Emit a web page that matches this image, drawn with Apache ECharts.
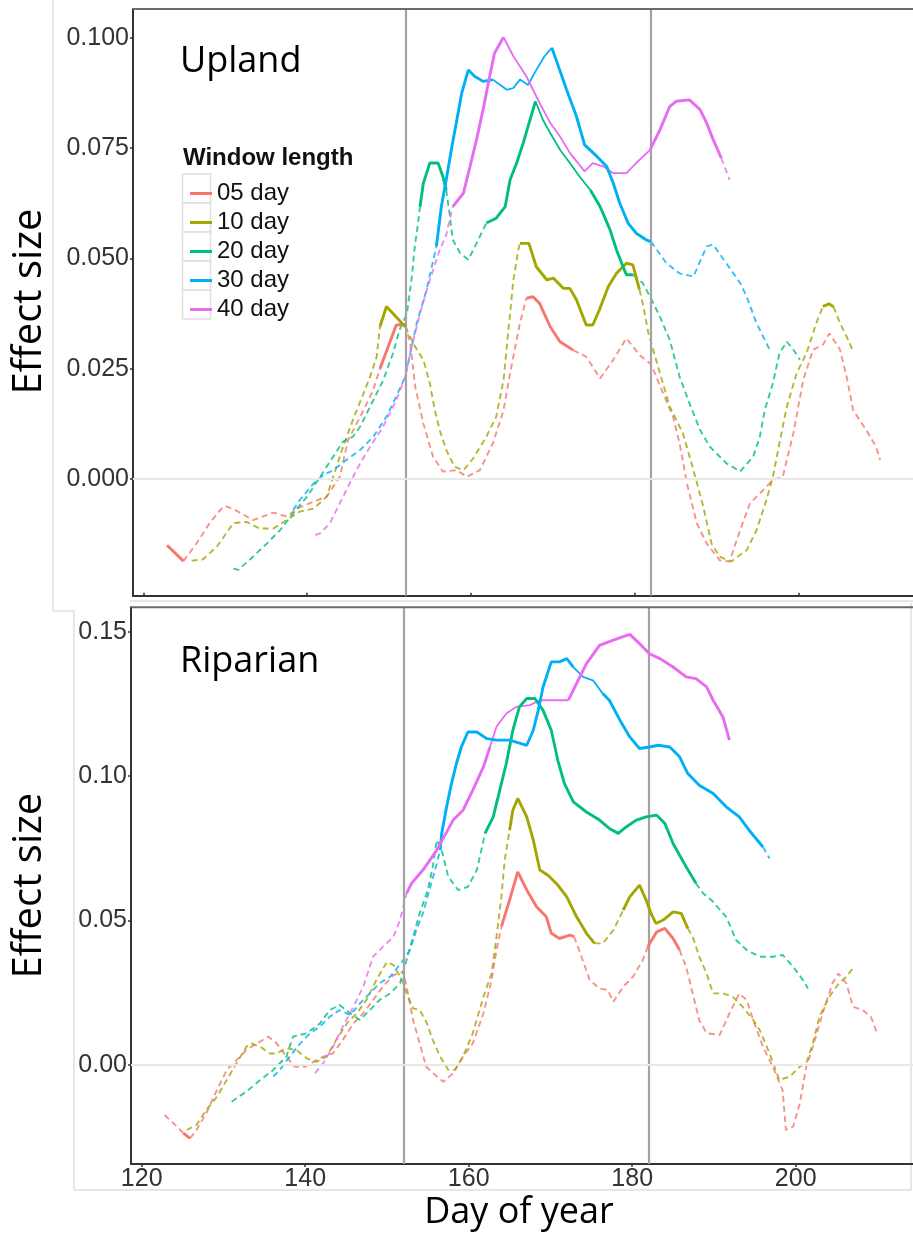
<!DOCTYPE html>
<html>
<head>
<meta charset="utf-8">
<script src="https://cdn.jsdelivr.net/npm/echarts@6/dist/echarts.min.js"></script>
<style>
  html, body { margin: 0; padding: 0; background: #ffffff; }
  #chart { width: 913px; height: 1235px; }
</style>
</head>
<body>
<div id="chart"></div>
<script>
// Effect size of each moving window (05–40 days) against day of year.
// Points are [day of year, effect size]. Ranges list where the window is
// significant (solid line); everything else is drawn dashed.

const WINDOW_LABELS = ['05 day', '10 day', '20 day', '30 day', '40 day'];
const WINDOW_COLORS = ['#F8766D', '#A3A500', '#00BF7D', '#00B0F6', '#E76BF3'];
const X_TICKS = [120, 140, 160, 180, 200];
const UPLAND_Y_TICKS = [0, 0.025, 0.05, 0.075, 0.1];
const RIPARIAN_Y_TICKS = [0, 0.05, 0.1, 0.15];
const MONTH_STARTS = [152, 182]; // 1 June, 1 July

// ---------- Upland ----------
const upland05 = [[122.9,-0.015],[124.9,-0.0186],[126.5,-0.0146],[128.1,-0.01],[129.4,-0.007],[130,-0.0061],[131.2,-0.007],[133.4,-0.0093],[135.9,-0.0076],[137.5,-0.0085],[138.9,-0.0066],[140.8,-0.0051],[142.4,-0.004],[144,0.0005],[145,0.0088],[146.5,0.0141],[148.1,0.0202],[148.9,0.025],[150.9,0.0349],[152,0.035],[152.6,0.0308],[153.2,0.021],[154.2,0.0126],[155.4,0.005],[156.6,0.0017],[158.3,0.002],[159.5,0.0005],[161.1,0.002],[162.7,0.0081],[164,0.0156],[164.8,0.024],[166,0.0353],[166.8,0.041],[167.6,0.0413],[168.4,0.0398],[169.7,0.0345],[170.9,0.0311],[172.5,0.0292],[174.1,0.0277],[175.8,0.0228],[177.4,0.027],[179,0.0319],[180.6,0.0281],[181.9,0.0262],[182.3,0.0247],[184.7,0.0141],[185.5,0.0081],[186.4,-0.001],[187.6,-0.01],[188.8,-0.0146],[190.4,-0.0184],[191.6,-0.0187],[192.9,-0.0116],[194.1,-0.0055],[195.7,-0.0025],[196.9,-0.0002],[198.1,0.0005],[199.4,0.0104],[200.6,0.0224],[201.8,0.0293],[203,0.0304],[203.8,0.033],[205.1,0.0293],[205.9,0.0232],[206.7,0.0156],[208.3,0.0111],[209.5,0.0073],[210,0.0043]];
const upland10 = [[125.9,-0.0185],[127.3,-0.0182],[129,-0.0153],[131,-0.01],[132.6,-0.0097],[134.2,-0.0112],[135.9,-0.0112],[137.5,-0.0093],[139.1,-0.0074],[140.8,-0.0067],[142.4,-0.004],[143.2,0.0005],[144.4,0.0073],[145.6,0.0134],[146.9,0.0194],[147.7,0.0232],[148.5,0.0277],[148.9,0.0345],[149.7,0.0391],[152,0.0345],[153.2,0.03],[154.2,0.027],[155,0.0217],[155.6,0.0156],[156.2,0.0111],[157,0.0066],[158,0.0028],[159.1,0.002],[160.3,0.0047],[161.9,0.0096],[163.1,0.0141],[164,0.0224],[164.6,0.0338],[165.2,0.0451],[165.8,0.0519],[166,0.0534],[167.1,0.0534],[168,0.0481],[169.3,0.0451],[170.1,0.0455],[171.3,0.0432],[172.1,0.0432],[172.9,0.0406],[173.7,0.0368],[174.1,0.0349],[174.9,0.0349],[175.7,0.0383],[176.8,0.0436],[177.8,0.0466],[179,0.0489],[179.8,0.0485],[180.6,0.0429],[181,0.0398],[181.7,0.033],[183.1,0.024],[184.3,0.0164],[185.9,0.0104],[187.2,0.002],[188.4,-0.0063],[189.4,-0.0146],[190.4,-0.0176],[191.8,-0.0187],[193.7,-0.0161],[194.9,-0.0116],[196.1,-0.0048],[196.9,0.0005],[197.7,0.0081],[198.6,0.0164],[199.8,0.024],[201,0.0285],[202.2,0.0353],[203,0.0391],[203.8,0.0397],[204.3,0.039],[205.1,0.0353],[205.9,0.0323],[206.7,0.0289]];
const upland20 = [[131,-0.0203],[131.6,-0.0206],[133.4,-0.0176],[135.1,-0.0146],[136.7,-0.0116],[138.3,-0.0078],[140,-0.004],[141.6,0.0005],[143.2,0.0051],[144.4,0.0085],[145.6,0.0096],[146.5,0.0119],[147.7,0.0164],[149.3,0.0224],[150.5,0.0285],[151.3,0.0338],[152.2,0.0375],[152.8,0.0459],[153.2,0.0534],[153.4,0.0557],[153.8,0.0617],[154.2,0.067],[155,0.0716],[156,0.0716],[156.6,0.0685],[157,0.0655],[157.4,0.0602],[157.8,0.0542],[158.7,0.0512],[159.7,0.0497],[160.7,0.0534],[161.9,0.058],[163.1,0.0591],[164.2,0.0617],[164.8,0.0678],[165.6,0.0716],[166.4,0.0761],[167,0.0799],[167.9,0.0856],[168.8,0.0814],[169.7,0.0784],[170.9,0.0746],[172.1,0.0716],[173.3,0.0685],[174.6,0.0655],[175.8,0.0617],[177,0.0565],[177.8,0.0519],[178.6,0.0481],[179,0.0463],[179.8,0.0463],[181,0.0444],[181.9,0.0413],[183.1,0.0368],[184.3,0.0315],[185.5,0.0232],[186.7,0.0172],[188,0.0111],[189.2,0.0073],[191.2,0.0036],[192.9,0.0017],[194.5,0.0051],[195.3,0.0096],[195.9,0.0156],[196.9,0.0217],[197.7,0.0285],[198.6,0.0311],[199.4,0.0293],[200.2,0.027]];
const upland30 = [[138.3,-0.007],[139.1,-0.0048],[140.8,-0.001],[142,0.0009],[143.2,0.002],[144.8,0.0043],[146.5,0.0066],[148.1,0.0096],[149.7,0.0141],[150.9,0.0187],[152,0.0232],[153.4,0.0353],[154.6,0.0429],[155.8,0.0527],[156.4,0.0617],[157,0.0678],[157.7,0.0754],[158.3,0.0814],[158.9,0.0875],[159.7,0.0927],[160.5,0.0912],[161.5,0.0901],[162.7,0.0905],[163.6,0.0893],[164.4,0.0882],[165.2,0.0886],[166,0.0905],[167,0.0893],[168,0.0927],[169,0.0958],[169.9,0.0977],[170.7,0.0935],[171.7,0.0882],[172.9,0.0822],[173.9,0.0757],[175.4,0.0731],[176.6,0.0708],[177.4,0.067],[178.2,0.0625],[179.2,0.058],[180.2,0.0557],[181.4,0.0542],[182,0.0538],[183.9,0.0489],[185.5,0.0466],[187.2,0.0459],[188.8,0.0527],[189.6,0.0531],[191.2,0.0489],[192.9,0.0444],[193.7,0.0413],[194.9,0.0353],[196.5,0.0293]];
const upland40 = [[141,-0.0127],[141.6,-0.0123],[142.8,-0.01],[144,-0.0055],[145.2,-0.001],[146.5,0.0036],[147.7,0.0073],[149.3,0.0119],[150.9,0.0179],[152,0.0232],[152.6,0.0285],[153.8,0.0376],[155,0.0451],[156.2,0.0519],[157,0.0553],[157.8,0.0617],[159.1,0.0648],[159.9,0.0708],[160.7,0.0769],[161.5,0.0837],[162.3,0.0912],[162.9,0.0965],[164,0.1001],[165.2,0.0958],[166.8,0.0912],[168.4,0.0852],[169.7,0.0807],[170.9,0.0776],[172.1,0.0739],[173.9,0.0697],[174.9,0.0716],[176.2,0.0708],[177.4,0.0693],[179,0.0693],[180.2,0.0716],[181.9,0.0746],[183.1,0.0791],[184.3,0.0844],[185.1,0.0856],[186.7,0.0859],[188,0.0837],[188.8,0.0807],[189.6,0.0769],[190.6,0.0727],[191.6,0.0678]];

const uplandSolid05 = [[122.9,124.9],[148.9,152],[166.8,172.5]];
const uplandSolid10 = [[148.9,152],[166,180.6],[203,204.3]];
const uplandSolid20 = [[153.8,157],[161.9,179.8]];
const uplandSolid30 = [[155.8,182]];
const uplandSolid40 = [[157.8,190.6]];
const uplandThin20 = [[167.9,175]];
const uplandThin30 = [[162.7,169.9]];
const uplandThin40 = [[164,181.9]];

// ---------- Riparian ----------
const riparian05 = [[122.8,-0.0173],[124.3,-0.0213],[125.1,-0.0236],[125.9,-0.0254],[126.7,-0.0225],[127.9,-0.0167],[129.2,-0.0087],[130.4,-0.0017],[131.6,0.0017],[132.8,0.0052],[134.1,0.0075],[135.5,0.0098],[136.5,0.0075],[137.7,0.0029],[138.7,-0.0006],[140,-0.0006],[141,0.0011],[142.2,0.0029],[143.4,0.004],[144.6,0.0087],[145.9,0.0144],[147.1,0.0179],[148.3,0.0225],[149.5,0.0271],[150.8,0.0311],[152,0.0323],[152.4,0.0271],[153.2,0.0156],[154,0.0075],[154.8,-0.0006],[156.1,-0.004],[156.9,-0.0058],[158.1,-0.0029],[159.3,0.0029],[160.5,0.0075],[161.8,0.0179],[162.8,0.0294],[163.4,0.0398],[164,0.0479],[165,0.0571],[166,0.0669],[167.1,0.0606],[168.3,0.0548],[169.5,0.0513],[170.1,0.0456],[171.1,0.0438],[172.4,0.045],[172.9,0.0444],[173.8,0.0375],[174.8,0.0294],[176,0.0265],[177,0.026],[177.7,0.0219],[178.9,0.0271],[180.1,0.0306],[181.3,0.0363],[181.9,0.0409],[183,0.0461],[184,0.0473],[185,0.0438],[185.8,0.0398],[186.6,0.034],[187.4,0.0248],[188.2,0.0156],[189.1,0.011],[190.7,0.0104],[191.9,0.0179],[193.1,0.0248],[194,0.0225],[194.8,0.0156],[196,0.0063],[197.2,-0.0006],[198.4,-0.0087],[198.8,-0.0225],[199.7,-0.0213],[200.5,-0.0133],[201.3,-0.0006],[202.1,0.0063],[203.3,0.0179],[204.5,0.0283],[205.2,0.0317],[206.2,0.0283],[207,0.0202],[208.2,0.019],[209.2,0.0167],[209.9,0.0115]];
const riparian10 = [[125.5,-0.0225],[126.7,-0.0208],[127.9,-0.0156],[129.2,-0.011],[130.4,-0.0052],[131.6,0.0006],[132.8,0.0063],[133.4,0.0075],[134.5,0.0063],[135.7,0.004],[136.5,0.004],[137.7,0.0058],[138.9,0.0052],[140.2,0.0023],[141.4,0.0011],[142.6,0.0029],[143.8,0.0087],[145.1,0.0144],[146.3,0.0179],[147.5,0.0225],[148.7,0.0294],[150,0.0357],[150.8,0.0346],[151.6,0.0306],[152,0.0283],[152.4,0.0248],[153.2,0.0196],[154,0.019],[154.8,0.015],[155.6,0.0087],[156.5,0.0029],[157.5,-0.0017],[158.3,-0.0017],[159.3,0.0029],[160.5,0.011],[161.8,0.0236],[162.8,0.0317],[163.4,0.0444],[164,0.0582],[164.4,0.0709],[165,0.0813],[165.4,0.0882],[166,0.0923],[167.1,0.0859],[167.9,0.0779],[168.7,0.0675],[169.7,0.0657],[170.9,0.0623],[172,0.0582],[173.2,0.0513],[174.4,0.0456],[175.4,0.0421],[176.4,0.0421],[177.7,0.0467],[178.9,0.0536],[179.7,0.0582],[180.9,0.0623],[181.7,0.0571],[182.3,0.0525],[182.9,0.049],[183.8,0.0502],[185,0.053],[186,0.0525],[186.8,0.0473],[187.4,0.0444],[188.2,0.0375],[189.1,0.0317],[189.9,0.0248],[191.1,0.0248],[192.3,0.0236],[193.5,0.0202],[194.8,0.0156],[195.6,0.0121],[196.8,0.004],[198,-0.0052],[199.3,-0.004],[200.5,-0.0006],[201.3,0.0006],[202.1,0.0075],[202.9,0.0167],[204.1,0.0236],[205.3,0.0283],[206.2,0.0306],[207,0.0335]];
const riparian20 = [[131,-0.0127],[132.8,-0.0092],[134.5,-0.0052],[136.1,-0.0017],[137.7,0.0029],[138.5,0.0098],[140.2,0.011],[141.8,0.0144],[143,0.019],[144.2,0.0208],[145.5,0.0179],[146.7,0.0156],[147.9,0.019],[149.1,0.0225],[150.4,0.0248],[151.6,0.0283],[152.4,0.0363],[153.2,0.0444],[154,0.0525],[155,0.0606],[155.6,0.0686],[156.1,0.0779],[156.7,0.0744],[157.5,0.0652],[158.7,0.0606],[159.9,0.0617],[161,0.0675],[162,0.0802],[163,0.0859],[163.8,0.0952],[164.6,0.1044],[165.4,0.1159],[166.2,0.124],[167.1,0.1269],[168.1,0.1269],[169.1,0.1228],[170.1,0.1159],[170.9,0.1055],[171.7,0.0975],[172.8,0.0911],[174.4,0.0876],[176,0.0848],[177.2,0.0819],[178.3,0.0802],[179.3,0.0825],[180.5,0.0848],[181.7,0.0859],[183,0.0865],[184,0.0836],[185,0.0767],[186.6,0.0686],[187.8,0.0629],[188.7,0.0594],[189.9,0.0565],[191.5,0.0513],[192.7,0.0433],[194,0.0398],[195.6,0.0375],[197.2,0.0375],[198.4,0.0381],[199.7,0.034],[200.9,0.0294],[201.5,0.0265]];
const riparian30 = [[136.1,-0.004],[136.9,-0.0017],[138.1,0.0029],[139.4,0.0075],[140.6,0.011],[141.8,0.0133],[143,0.0167],[144.2,0.019],[145.5,0.0173],[146.7,0.0213],[147.9,0.0248],[149.1,0.0283],[150.4,0.0306],[152,0.0363],[152.8,0.0398],[153.6,0.0467],[154.4,0.0525],[155.2,0.0606],[156.1,0.0698],[156.5,0.0744],[156.7,0.0802],[157.3,0.0894],[157.9,0.0975],[158.5,0.1044],[159.1,0.1101],[159.9,0.1153],[161,0.1153],[162.2,0.113],[163.4,0.1125],[165,0.1125],[167.1,0.1107],[167.9,0.1159],[168.5,0.1228],[169.1,0.1309],[170.1,0.1396],[171.1,0.1396],[172,0.1407],[172.8,0.1378],[174,0.1344],[175.2,0.1332],[176.4,0.1286],[177.2,0.1263],[178.5,0.1194],[179.7,0.1136],[180.9,0.1096],[182.1,0.1101],[183.2,0.1107],[184.6,0.1101],[185.8,0.1067],[186.8,0.1009],[188.2,0.0969],[189.9,0.094],[191.5,0.0894],[193.1,0.0859],[194.3,0.0813],[196,0.0755],[196.8,0.0715]];
const riparian40 = [[141.2,-0.0029],[142.2,0.0006],[143.4,0.0063],[144.6,0.0133],[145.9,0.0202],[147.1,0.0271],[148.3,0.0375],[149.5,0.0409],[150.8,0.0444],[151.6,0.0502],[152.4,0.0594],[153,0.0629],[154.4,0.0675],[156.1,0.0744],[158.1,0.0848],[159.3,0.0882],[160.5,0.0952],[161.8,0.1032],[162.6,0.1101],[163.4,0.1171],[164.6,0.1217],[165.8,0.124],[167.5,0.1246],[168.7,0.1263],[170.3,0.1263],[172.2,0.1263],[173.2,0.1321],[174.4,0.139],[176,0.1453],[177.7,0.1471],[179.7,0.1491],[180.9,0.1459],[182.1,0.1424],[183.4,0.1407],[185,0.1378],[186.6,0.1344],[187.8,0.1338],[189.1,0.1309],[189.9,0.1263],[191.1,0.1205],[191.9,0.1125]];

const riparianSolid05 = [[125.1,125.9],[164,172.9],[181.9,185.8]];
const riparianSolid10 = [[165,175.4],[178.9,186.8]];
const riparianSolid20 = [[162,187.8]];
const riparianSolid30 = [[156.5,196]];
const riparianSolid40 = [[152.4,191.9]];
const riparianThin30 = [[172.8,176.4]];
const riparianThin40 = [[162.6,172.2]];

// ---------- build ----------
function inRanges(d, ranges) {
  return ranges.some(function (r) { return d >= r[0] && d <= r[1]; });
}

// Split one curve into dashed / thin / thick runs, inserting gaps between runs.
function splitByStyle(points, solid, thin) {
  const out = { dash: [], thin: [], thick: [] };
  const lastIdx = { dash: -1, thin: -1, thick: -1 };
  for (let i = 0; i < points.length - 1; i++) {
    const a = points[i], b = points[i + 1];
    const mid = (a[0] + b[0]) / 2;
    const kind = inRanges(mid, thin) ? 'thin' : (inRanges(mid, solid) ? 'thick' : 'dash');
    const arr = out[kind];
    if (lastIdx[kind] !== i) {
      if (arr.length) arr.push([mid, '-']);
      arr.push(a);
    }
    arr.push(b);
    lastIdx[kind] = i + 1;
  }
  return out;
}

const STYLE = {
  dash:  { width: 1.9, type: [6, 4], opacity: 0.8, z: 3 },
  thin:  { width: 1.8, type: 'solid', opacity: 1, z: 4 },
  thick: { width: 2.9, type: 'solid', opacity: 1, z: 5 }
};

function makeSeries(panel, gridIdx, curves, solids, thins) {
  const list = [];
  ['dash', 'thin', 'thick'].forEach(function (kind) {
    curves.forEach(function (pts, k) {
      const parts = splitByStyle(pts, solids[k], thins[k]);
      const s = STYLE[kind];
      const name = kind === 'thick' && gridIdx === 0 ? WINDOW_LABELS[k] : panel + ' ' + WINDOW_LABELS[k] + ' ' + kind;
      list.push({
        name: name,
        type: 'line',
        xAxisIndex: gridIdx,
        yAxisIndex: gridIdx,
        data: parts[kind],
        showSymbol: false,
        symbol: 'none',
        connectNulls: false,
        silent: true,
        animation: false,
        z: s.z,
        itemStyle: { color: WINDOW_COLORS[k] },
        lineStyle: { color: WINDOW_COLORS[k], width: s.width, type: s.type, opacity: s.opacity, cap: 'butt' }
      });
    });
  });
  return list;
}

function guideSeries(gridIdx) {
  const lines = MONTH_STARTS.map(function (d) {
    return { xAxis: d, lineStyle: { color: '#a3a3a3', width: 2.2, type: 'solid' } };
  });
  lines.push({ yAxis: 0, lineStyle: { color: '#e8e8e8', width: 2, type: 'solid' } });
  return {
    type: 'line', xAxisIndex: gridIdx, yAxisIndex: gridIdx, data: [], silent: true, z: 1,
    markLine: { symbol: 'none', silent: true, animation: false, label: { show: false }, data: lines }
  };
}

const uplandSeries = makeSeries('Upland', 0,
  [upland05, upland10, upland20, upland30, upland40],
  [uplandSolid05, uplandSolid10, uplandSolid20, uplandSolid30, uplandSolid40],
  [[], [], uplandThin20, uplandThin30, uplandThin40]);
const riparianSeries = makeSeries('Riparian', 1,
  [riparian05, riparian10, riparian20, riparian30, riparian40],
  [riparianSolid05, riparianSolid10, riparianSolid20, riparianSolid30, riparianSolid40],
  [[], [], [], riparianThin30, riparianThin40]);

const tickFont = { fontFamily: '"Liberation Sans", Arial, sans-serif', fontSize: 25, color: '#333333' };
const axisLineStyle = { color: '#333333', width: 2 };

function xAxisFor(gridIdx, min, max, showLabels) {
  return {
    type: 'value', gridIndex: gridIdx, min: min, max: max,
    axisLine: { show: true, onZero: false, lineStyle: axisLineStyle },
    axisTick: { show: true, inside: !showLabels, length: 3, customValues: X_TICKS, lineStyle: { color: '#333', width: 1.5 } },
    axisLabel: Object.assign({ show: showLabels, customValues: X_TICKS, margin: 3 }, tickFont),
    splitLine: { show: false }
  };
}

function yAxisFor(gridIdx, min, max, ticks, digits) {
  return {
    type: 'value', gridIndex: gridIdx, min: min, max: max,
    axisLine: { show: true, onZero: false, lineStyle: axisLineStyle },
    axisTick: { show: true, length: 3, customValues: ticks, lineStyle: { color: '#333', width: 1.5 } },
    axisLabel: Object.assign({ customValues: ticks, margin: 4, formatter: function (v) { return v.toFixed(digits); } }, tickFont),
    splitLine: { show: false }
  };
}

const titleFont = '"Open Sans", "Noto Sans", sans-serif';
const frame = { stroke: '#cfcfcf', lineWidth: 1 };

const chart = echarts.init(document.getElementById('chart'), null, { renderer: 'canvas' });
chart.setOption({
  backgroundColor: '#ffffff',
  animation: false,
  grid: [
    { left: 133, top: 9, width: 780, height: 586.7 },
    { left: 131, top: 607.3, width: 782, height: 556.7 }
  ],
  xAxis: [
    xAxisFor(0, 118.742, 214.01, false),
    xAxisFor(1, 118.691, 214.35, true)
  ],
  yAxis: [
    yAxisFor(0, -0.02644, 0.1065, UPLAND_Y_TICKS, 3),
    yAxisFor(1, -0.03428, 0.15848, RIPARIAN_Y_TICKS, 2)
  ],
  legend: {
    data: WINDOW_LABELS,
    orient: 'vertical',
    left: 185, top: 174,
    itemWidth: 22, itemHeight: 3, itemGap: 0,
    icon: 'rect',
    selectedMode: false,
    textStyle: { fontFamily: '"Liberation Sans", Arial, sans-serif', fontSize: 24, color: '#111111', lineHeight: 29, height: 29 }
  },
  graphic: [
    // panel frames
    { type: 'polyline', z: 0, shape: { points: [[53, 0], [53, 611], [74, 611]] }, style: Object.assign({ fill: null }, frame) },
    { type: 'polyline', z: 0, shape: { points: [[74, 611], [74, 1190], [911, 1190], [911, 603]] }, style: Object.assign({ fill: null }, frame) },
    { type: 'line', z: 0, shape: { x1: 130, y1: 601, x2: 913, y2: 601 }, style: frame },
    { type: 'line', z: 10, shape: { x1: 133, y1: 9, x2: 913, y2: 9 }, style: { stroke: '#6a6a6a', lineWidth: 2 } },
    { type: 'line', z: 10, shape: { x1: 131, y1: 607.3, x2: 913, y2: 607.3 }, style: { stroke: '#6a6a6a', lineWidth: 2 } },
    // legend keys
    { type: 'group', z: 0, children: WINDOW_LABELS.map(function (_, i) {
        return { type: 'rect', shape: { x: 182.5, y: 174 + i * 29, width: 28, height: 29 }, style: { fill: '#ffffff', stroke: '#dedede', lineWidth: 1.5 } };
      }) },
    { type: 'text', x: 183, y: 158, style: { text: 'Window length', fontFamily: '"Liberation Sans", Arial, sans-serif', fontWeight: 'bold', fontSize: 24, fill: '#111111', align: 'left', verticalAlign: 'middle' } },
    // panel titles
    { type: 'text', x: 180, y: 62, style: { text: 'Upland', fontFamily: titleFont, fontSize: 36, fill: '#000000', align: 'left', verticalAlign: 'middle' } },
    { type: 'text', x: 180, y: 662, style: { text: 'Riparian', fontFamily: titleFont, fontSize: 36, fill: '#000000', align: 'left', verticalAlign: 'middle' } },
    // axis titles
    { type: 'text', x: 30, y: 301.5, rotation: Math.PI / 2, style: { text: 'Effect size', fontFamily: titleFont, fontSize: 40, fill: '#000000', align: 'center', verticalAlign: 'middle' } },
    { type: 'text', x: 30, y: 885.7, rotation: Math.PI / 2, style: { text: 'Effect size', fontFamily: titleFont, fontSize: 40, fill: '#000000', align: 'center', verticalAlign: 'middle' } },
    { type: 'text', x: 519, y: 1213, style: { text: 'Day of year', fontFamily: titleFont, fontSize: 36, fill: '#000000', align: 'center', verticalAlign: 'middle' } }
  ],
  series: [guideSeries(0), guideSeries(1)].concat(uplandSeries, riparianSeries)
});
</script>
</body>
</html>
